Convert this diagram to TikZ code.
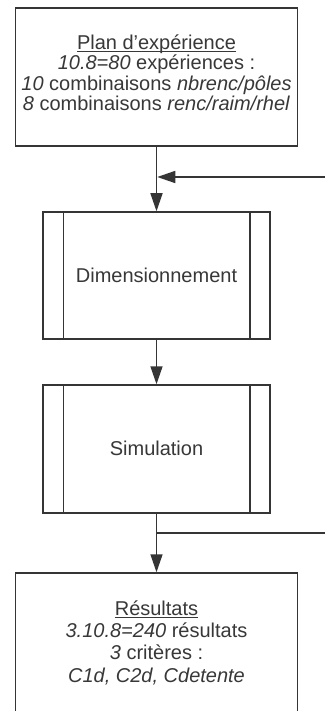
\documentclass[tikz,border=0pt]{standalone}
\usepackage{fontspec}
\setmainfont{Liberation Sans}
\usetikzlibrary{arrows.meta}
\definecolor{ln}{HTML}{353535}
\definecolor{tx}{HTML}{383838}
\newcommand\ulx[1]{\setbox0\hbox{#1}\rlap{\rule[-2.6pt]{\wd0}{1.1pt}}\box0}
\begin{document}
\begin{tikzpicture}[x=1pt,y=-1pt,
  box/.style={draw=ln,line width=1.5pt,fill=white,inner sep=0pt},
  lbl/.style={text=tx,align=center,font=\fontsize{20}{20.5}\selectfont,inner sep=0pt},
  conn/.style={draw=ln,line width=1.5pt},
  arr/.style={conn,-{Triangle[length=18pt,width=12pt]}}]
\useasboundingbox[fill=white] (0,0) rectangle (325,711);
\begin{scope}
\clip (0,0) rectangle (325,711);
% boxes
\node[box,minimum width=282pt,minimum height=138pt] (plan) at (156.5,77) {};
\node[box,minimum width=227pt,minimum height=127pt] (dim) at (156.5,275.5) {};
\node[box,minimum width=227pt,minimum height=128pt] (sim) at (156.5,449) {};
\node[box,minimum width=282pt,minimum height=180pt] (res) at (156.5,663) {};
% inner process lines
\draw[conn] ([xshift=21pt]dim.north west) -- ([xshift=21pt]dim.south west);
\draw[conn] ([xshift=-21pt]dim.north east) -- ([xshift=-21pt]dim.south east);
\draw[conn] ([xshift=21pt]sim.north west) -- ([xshift=21pt]sim.south west);
\draw[conn] ([xshift=-21pt]sim.north east) -- ([xshift=-21pt]sim.south east);
% labels
\node[lbl] (plant) at (156.5,72.5) {\ulx{Plan d'expérience}\\ \textit{10.8=80} expériences :\\ \textit{10} combinaisons \textit{nbrenc/pôles}\\ \textit{8} combinaisons \textit{renc/raim/rhel}};
\node[lbl] (dimt) at (156.5,275) {Dimensionnement};
\node[lbl] (simt) at (156.5,448) {Simulation};
\node[lbl,font=\fontsize{20}{22.3}\selectfont] (rest) at (156.5,642.5) {\ulx{Résultats}\\ \textit{3.10.8=240} résultats\\ \textit{3} critères :\\ \textit{C1d, C2d, Cdetente}};
% connectors
\coordinate (fbin) at (325,177);
\coordinate (fbout) at (325,533);
\draw[arr] (plan.south) -- (dim.north);
\draw[arr] (fbin) -- ([xshift=0.75pt]plan.south |- fbin);
\draw[arr] (dim.south) -- (sim.north);
\draw[arr] (sim.south) -- (res.north);
\draw[conn] (sim.south |- fbout) -- (fbout);
\end{scope}
\end{tikzpicture}
\end{document}
